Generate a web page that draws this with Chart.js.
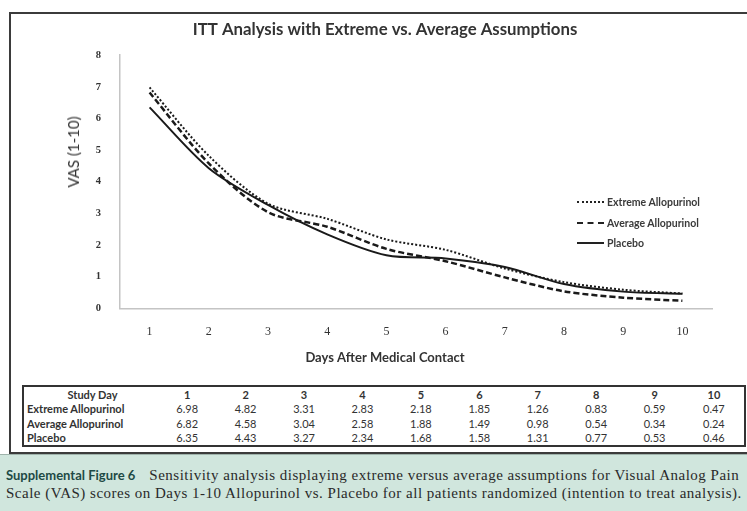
<!DOCTYPE html>
<html>
<head>
<meta charset="utf-8">
<script src="https://cdn.jsdelivr.net/npm/chart.js@4/dist/chart.umd.min.js"></script>
<style>
    body { margin: 0; width: 747px; height: 511px; overflow: hidden; background: #fff; position: relative; font-family: Lato, "Open Sans", sans-serif; }
    #cadre { position: absolute; left: 9px; top: 12px; width: 800px; height: 438px; border: 2px solid #3b3b3b; }
    #zoneGraph { position: absolute; left: 0; top: 0; width: 770px; height: 371px; }
    #titreY { position: absolute; left: 73px; top: 152px; transform: translate(-50%, -50%) rotate(-90deg); font-size: 15px; color: #333; white-space: nowrap; }
    #legende { position: absolute; left: 577px; top: 192px; font-size: 10.5px; font-weight: bold; color: #3a3a3a; }
    #legende .ligne { height: 20.5px; display: flex; align-items: center; }
    #legende .trait { width: 27px; margin-right: 3px; height: 0; }
    #tableau { position: absolute; left: 22px; top: 385px; width: 724px; border: 2px solid #333; border-collapse: collapse; font-size: 11px; color: #333; }
    #tableau td { padding: 0; height: 14.5px; text-align: center; }
    #tableau td.lib { text-align: left; font-weight: bold; padding-left: 3px; width: 131px; }
    #tableau tr.entete td { font-weight: bold; }
    #tableau tr.entete td.lib { text-align: center; }
    #legendeFig { position: absolute; left: 0; top: 454px; width: 747px; height: 57px; background: #d0e6dd; border-top: 1px solid #9fb3ab; }
    #legendeFig div { position: absolute; left: 6px; white-space: nowrap; font-family: "Liberation Serif", serif; font-size: 15px; letter-spacing: 0.5px; color: #2a2a2a; }
    #legendeFig b { font-family: Lato, "Open Sans", sans-serif; font-size: 13px; letter-spacing: 0; color: #1e4a45; margin-right: 14px; }
</style>
</head>
<body>
<div id="cadre"></div>
<div id="zoneGraph"><canvas id="graph"></canvas></div>
<div id="titreY">VAS (1-10)</div>
<div id="legende"></div>
<table id="tableau"></table>
<div id="legendeFig">
    <div style="top: 12px;"><b>Supplemental Figure 6</b>Sensitivity analysis displaying extreme versus average assumptions for Visual Analog Pain</div>
    <div style="top: 30px;">Scale (VAS) scores on Days 1-10 Allopurinol vs. Placebo for all patients randomized (intention to treat analysis).</div>
</div>
<script>
var jours = ['1', '2', '3', '4', '5', '6', '7', '8', '9', '10'];
var extremeAllo = [6.98, 4.82, 3.31, 2.83, 2.18, 1.85, 1.26, 0.83, 0.59, 0.47];
var averageAllo = [6.82, 4.58, 3.04, 2.58, 1.88, 1.49, 0.98, 0.54, 0.34, 0.24];
var placebo = [6.35, 4.43, 3.27, 2.34, 1.68, 1.58, 1.31, 0.77, 0.53, 0.46];
var ticksY = [0, 1, 2, 3, 4, 5, 6, 7, 8];

var series = [
    { nom: 'Extreme Allopurinol', data: extremeAllo, dash: [2, 2], css: '2px dotted #222', largeur: 2 },
    { nom: 'Average Allopurinol', data: averageAllo, dash: [6, 3], css: '2.5px dashed #222', largeur: 2.5 },
    { nom: 'Placebo', data: placebo, dash: [], css: '2px solid #222', largeur: 2 }
];

function construireLegende()
{
    var legende = document.getElementById('legende');
    series.forEach(function(s) {
        var ligne = document.createElement('div');
        ligne.className = 'ligne';
        ligne.innerHTML = '<span class="trait" style="border-top: ' + s.css + '"></span>' + s.nom;
        legende.appendChild(ligne);
    });
}

function construireTableau()
{
    var table = document.getElementById('tableau');
    var html = '<tr class="entete"><td class="lib">Study Day</td>';
    jours.forEach(function(j) {
        html += '<td>' + j + '</td>';
    });
    html += '</tr>';
    series.forEach(function(s) {
        html += '<tr><td class="lib">' + s.nom + '</td>';
        s.data.forEach(function(v) {
            html += '<td>' + v.toFixed(2) + '</td>';
        });
        html += '</tr>';
    });
    table.innerHTML = html;
}

function dessinerGraph()
{
    var ctx = document.getElementById('graph');
    new Chart(ctx, {
        type: 'line',
        data: {
            labels: jours,
            datasets: series.map(function(s) {
                return {
                    label: s.nom,
                    data: s.data,
                    borderColor: '#1a1a1a',
                    borderWidth: s.largeur,
                    borderDash: s.dash,
                    pointRadius: 0,
                    tension: 0.3,
                    fill: false
                };
            })
        },
        options: {
            responsive: true,
            maintainAspectRatio: false,
            animation: false,
            // padding symetrique pour centrer les titres vers x=385
            layout: { padding: { left: 58, right: 58, top: 0, bottom: 0 } },
            plugins: {
                legend: { display: false },
                tooltip: { enabled: false },
                title: {
                    display: true,
                    text: 'ITT Analysis with Extreme vs. Average Assumptions',
                    color: '#333',
                    font: { family: 'Lato', size: 16.8, weight: 'bold', lineHeight: 1.2 },
                    padding: { top: 20, bottom: 15 }
                },
                subtitle: {
                    display: true,
                    position: 'bottom',
                    text: 'Days After Medical Contact',
                    color: '#333',
                    font: { family: 'Lato', size: 13, weight: 'bold', lineHeight: 1.2 },
                    padding: { top: 5, bottom: 5 }
                }
            },
            scales: {
                x: {
                    offset: true,
                    grid: { display: false },
                    border: { color: '#c4c4c4', width: 1.5 },
                    ticks: { color: '#333', padding: 8, font: { family: 'Liberation Serif', size: 12 } },
                    afterFit: function(scale) { scale.height = 37; }
                },
                y: {
                    min: 0,
                    max: 8,
                    grid: { display: false },
                    border: { color: '#c4c4c4', width: 1.5 },
                    afterBuildTicks: function(scale) {
                        scale.ticks = ticksY.map(function(v) { return { value: v }; });
                    },
                    ticks: { color: '#333', padding: 11, font: { family: 'Liberation Serif', size: 10.5, weight: 'bold' } },
                    afterFit: function(scale) { scale.width = 62; }
                }
            }
        }
    });
}

construireLegende();
construireTableau();
dessinerGraph();
</script>
</body>
</html>
